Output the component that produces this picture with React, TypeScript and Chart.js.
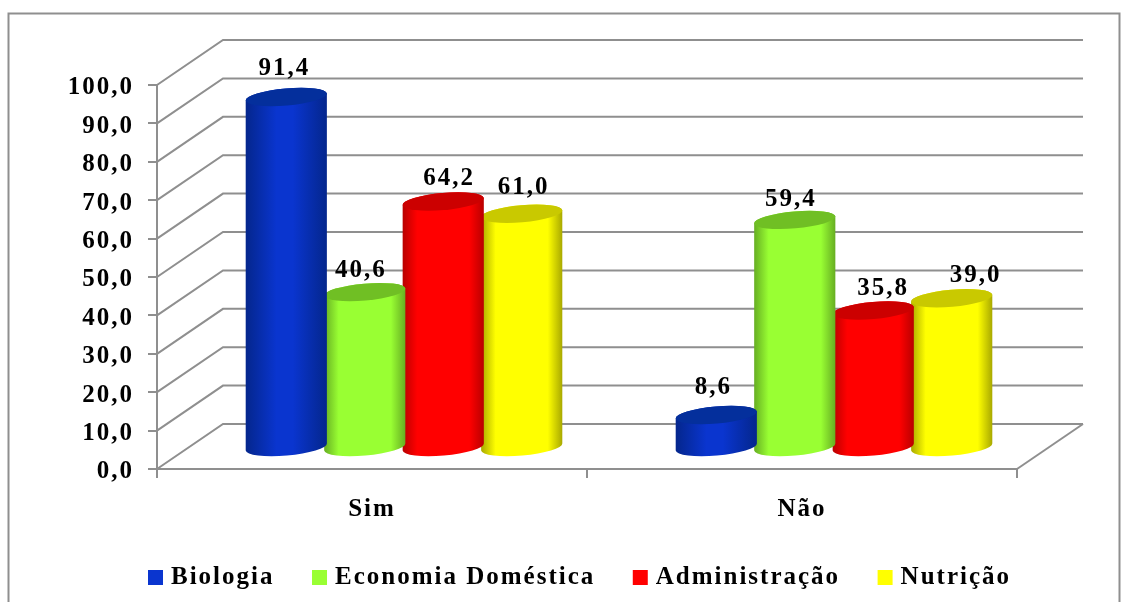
import React, { useEffect, useRef } from "react";
import { Chart, registerables } from "chart.js";

Chart.register(...registerables);

const categories = ["Sim", "Não"];
const seriesNames = ["Biologia", "Economia Doméstica", "Administração", "Nutrição"];
const biologia = [91.4, 8.6];
const economia = [40.6, 59.4];
const administracao = [64.2, 35.8];
const nutricao = [61.0, 39.0];

const baseColors = ["#0a35cf", "#99ff33", "#ff0000", "#ffff00"];
const edgeColors = ["#04268c", "#66ad22", "#b80000", "#a8a800"];
const capColors = ["#042f9c", "#70bf24", "#cc0000", "#c9c900"];
const glowStart = [0.38, 0.18, 0.18, 0.18];
const glowEnd = [0.58, 0.82, 0.82, 0.82];

// Label nudges relative to the cylinder's top, by series then category
const labelDx = [[-2, -3], [-4, -4], [6, 10], [2, 24]];
const labelDy = [[-28, -27], [-22, -20], [-23, -22], [-26, -23]];

const GRID = "#8f8f8f";
const FONT_FAMILY = "'Liberation Serif', serif";
const DEPTH_X = 66;
const DEPTH_Y = -45;
const BAR_DX = 32;
const BAR_DY = -21;
const BAR_PCT = 0.9;
const TILT = (-5 * Math.PI) / 180;
const CAP_RY = 8.5;
const SPACING = "2px";

const fmt = (v: number) => v.toFixed(1).replace(".", ",");

const setSpacing = (chart: any) => {
  chart.ctx.letterSpacing = SPACING;
};

const scene3d = {
  id: "scene3d",
  beforeInit: setSpacing,
  beforeUpdate: setSpacing,
  afterLayout(chart: any) {
    const legend = chart.legend;
    const pad = legend.options.labels.padding;
    legend.left = 152.5 - pad;
    legend.right = legend.left + legend.width;
    legend.top = 523;
    legend.bottom = legend.top + legend.height;
    legend.adjustHitBoxes();
  },
  beforeDraw(chart: any) {
    setSpacing(chart);
    const ctx = chart.ctx;
    ctx.save();
    ctx.strokeStyle = GRID;
    ctx.lineWidth = 2;
    ctx.strokeRect(8.5, 13.5, 1111, 620);
    ctx.restore();
  },
  beforeDatasetsDraw(chart: any) {
    const { ctx, chartArea, scales } = chart;
    ctx.save();
    ctx.strokeStyle = GRID;
    ctx.lineWidth = 2;
    scales.y.ticks.forEach((t: any) => {
      const y = scales.y.getPixelForValue(t.value);
      ctx.beginPath();
      ctx.moveTo(chartArea.left, y);
      ctx.lineTo(chartArea.left + DEPTH_X, y + DEPTH_Y);
      ctx.lineTo(chartArea.right + DEPTH_X, y + DEPTH_Y);
      ctx.stroke();
    });
    ctx.beginPath();
    ctx.moveTo(chartArea.right, chartArea.bottom);
    ctx.lineTo(chartArea.right + DEPTH_X, chartArea.bottom + DEPTH_Y);
    ctx.stroke();
    ctx.restore();
  },
  beforeDatasetDraw(chart: any) {
    chart.ctx.save();
    chart.ctx.translate(BAR_DX, BAR_DY);
  },
  afterDatasetDraw(chart: any, args: any) {
    const ctx = chart.ctx;
    ctx.restore();
    const i = args.index;
    args.meta.data.forEach((bar: any) => {
      const rx = bar.width / BAR_PCT / 2 + 1.5;
      const cx = bar.x + BAR_DX;
      const top = bar.y + BAR_DY;
      const bottom = bar.base + BAR_DY;
      const g = ctx.createLinearGradient(cx - rx, 0, cx + rx, 0);
      g.addColorStop(0, edgeColors[i]);
      g.addColorStop(glowStart[i], baseColors[i]);
      g.addColorStop(glowEnd[i], baseColors[i]);
      g.addColorStop(1, edgeColors[i]);
      ctx.save();
      ctx.fillStyle = g;
      ctx.beginPath();
      ctx.ellipse(cx, bottom, rx, CAP_RY, TILT, 0, Math.PI);
      ctx.ellipse(cx, top, rx, CAP_RY, TILT, Math.PI, Math.PI * 2);
      ctx.closePath();
      ctx.fill();
      ctx.fillStyle = capColors[i];
      ctx.beginPath();
      ctx.ellipse(cx, top, rx, CAP_RY, TILT, 0, Math.PI * 2);
      ctx.fill();
      ctx.restore();
    });
  },
  afterDatasetsDraw(chart: any) {
    const ctx = chart.ctx;
    ctx.save();
    ctx.font = `bold 25px ${FONT_FAMILY}`;
    ctx.fillStyle = "#000";
    ctx.textAlign = "center";
    ctx.textBaseline = "middle";
    chart.data.datasets.forEach((ds: any, i: number) => {
      chart.getDatasetMeta(i).data.forEach((bar: any, j: number) => {
        ctx.fillText(
          fmt(ds.data[j]),
          bar.x + BAR_DX + labelDx[i][j],
          bar.y + BAR_DY + labelDy[i][j]
        );
      });
    });
    ctx.restore();
  },
};

export default function App() {
  const ref = useRef<HTMLCanvasElement>(null);
  useEffect(() => {
    const font = { family: FONT_FAMILY, size: 25, weight: "bold" as const };
    const values = [biologia, economia, administracao, nutricao];
    const chart = new Chart(ref.current!, {
      type: "bar",
      data: {
        labels: categories,
        datasets: seriesNames.map((label, i) => ({
          label,
          data: values[i],
          backgroundColor: baseColors[i],
          borderWidth: 0,
          barPercentage: BAR_PCT,
          categoryPercentage: 0.73,
          clip: false as any,
        })),
      },
      options: {
        responsive: false,
        animation: false,
        layout: { padding: { left: 0, right: 111, top: 85, bottom: 0 } },
        plugins: {
          tooltip: { enabled: false },
          legend: {
            position: "bottom",
            align: "start",
            labels: {
              color: "#000",
              font,
              boxWidth: 6,
              boxHeight: 15,
              usePointStyle: true,
              pointStyle: "rect",
              padding: 42,
            },
          },
        },
        scales: {
          x: {
            afterFit: (s: any) => {
              s.height = 56;
            },
            grid: { drawOnChartArea: false, tickLength: 9, tickColor: GRID, lineWidth: 2 },
            border: { color: GRID, width: 2 },
            ticks: { color: "#000", font, padding: 17, maxRotation: 0 },
          },
          y: {
            min: 0,
            max: 100,
            afterFit: (s: any) => {
              s.width = 157;
            },
            grid: { drawOnChartArea: false, tickLength: 9, tickColor: GRID, lineWidth: 2 },
            border: { color: GRID, width: 2 },
            ticks: {
              stepSize: 10,
              color: "#000",
              font,
              padding: 14,
              labelOffset: 3,
              callback: (v: any) => fmt(Number(v)),
            },
          },
        },
      },
      plugins: [scene3d],
    } as any);
    return () => chart.destroy();
  }, []);
  return (
    <canvas
      ref={ref}
      width={1128}
      height={602}
      style={{ position: "absolute", left: 0, top: 0, display: "block", background: "#fff" }}
    />
  );
}
